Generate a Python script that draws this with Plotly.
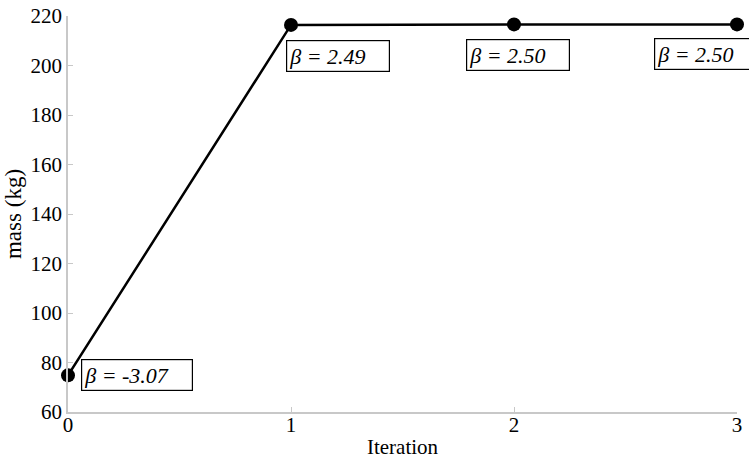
import plotly.graph_objects as go

# Optimisation history: mass at each iteration and the reliability index beta
iterations = [0, 1, 2, 3]
mass_kg = [74.8, 216.4, 216.6, 216.6]
beta_labels = ["β = -3.07", "β = 2.49", "β = 2.50", "β = 2.50"]
y_ticks = [60, 80, 100, 120, 140, 160, 180, 200, 220]
x_ticks = [0, 1, 2, 3]

serif = "Liberation Serif"

fig = go.Figure()
fig.add_trace(go.Scatter(
    x=iterations, y=mass_kg, mode="lines+markers",
    line=dict(color="black", width=2.5),
    marker=dict(color="black", size=14),
    cliponaxis=False, showlegend=False,
))

# label boxes: (xanchor, xshift px, yshift px, width px)
label_layout = [
    ("left", 13, 0, 106),
    ("left", -5, -31, 98),
    ("center", 4, -31, 98),
    ("left", -83, -30, 100),
]
for xi, yi, txt, (xa, xs, ys, w) in zip(iterations, mass_kg, beta_labels, label_layout):
    fig.add_annotation(
        x=xi, y=yi, xref="x", yref="y", text=txt,
        showarrow=False, xanchor=xa, yanchor="middle", xshift=xs, yshift=ys,
        align="left", width=w, height=26,
        bordercolor="black", borderwidth=1.2, borderpad=2, bgcolor="white",
        font=dict(family=serif, size=22, color="black", style="italic"),
    )

axis_common = dict(
    showline=True, linecolor="#c8c8c8", linewidth=1.5,
    ticks="inside", tickcolor="#c8c8c8", ticklen=5, tickwidth=1,
    showgrid=False, zeroline=False, automargin=False,
    tickfont=dict(family=serif, size=21, color="black"),
)

fig.update_layout(
    width=749, height=459,
    margin=dict(l=68, r=12, t=16, b=47),
    plot_bgcolor="white", paper_bgcolor="white",
    font=dict(family=serif, color="black"),
    xaxis=dict(range=[0, 3], tickvals=x_ticks,
               title=dict(text="Iteration", standoff=4,
                          font=dict(family=serif, size=21, color="black")),
               ticklabelstandoff=-7, **axis_common),
    yaxis=dict(range=[60, 220], tickvals=y_ticks,
               title=dict(text="mass (kg)", standoff=2,
                          font=dict(family=serif, size=23, color="black")),
               ticklabelstandoff=0, **axis_common),
)

fig.write_html("out.html")
